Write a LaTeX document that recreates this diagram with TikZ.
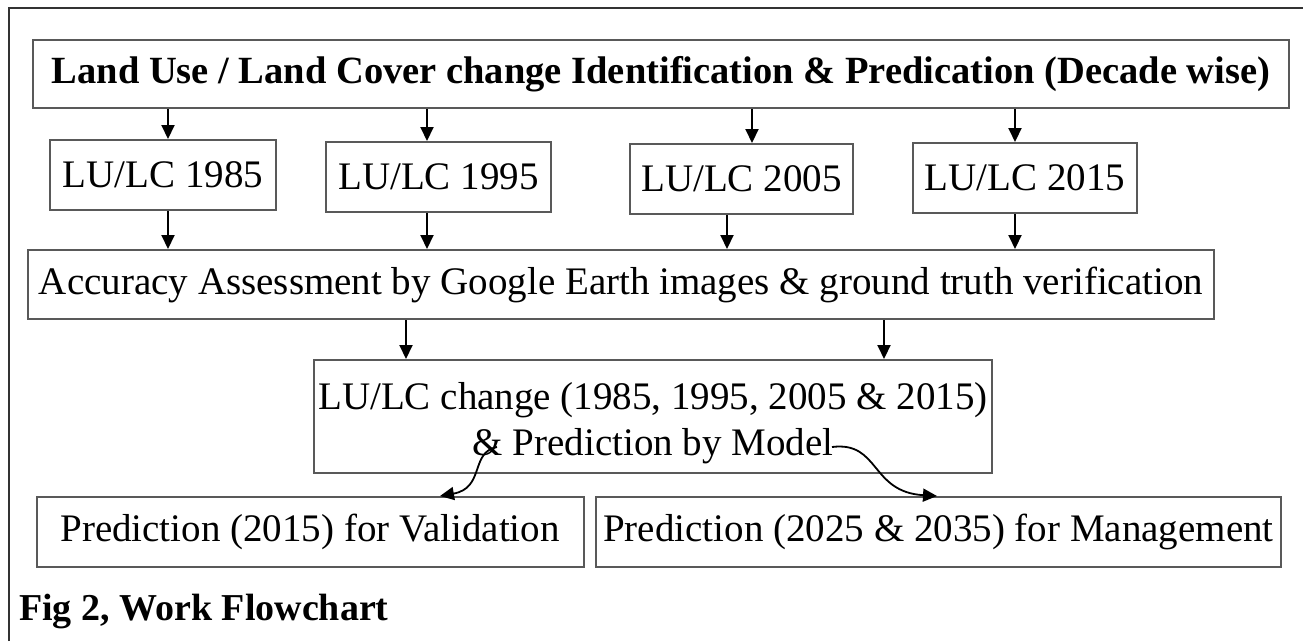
\documentclass[tikz,border=0pt]{standalone}
\usepackage{fontspec}
\setmainfont{Liberation Serif}
\usetikzlibrary{arrows.meta}
\begin{document}
\begin{tikzpicture}[x=1pt,y=-1pt,
  box/.style={draw=black!65, line width=2pt, inner sep=0pt, align=center, font=\fontsize{39}{46}\selectfont},
  arr/.style={line width=2pt, -{Triangle[length=14pt,width=13pt]}},
  curv/.style={line width=1.8pt, -{Triangle[length=14pt,width=13pt]}}]
\useasboundingbox (0,0) rectangle (1303,641);
\fill[white] (0,0) rectangle (1303,641);
\draw[line width=1.5pt, black!80] (9,641) -- (9,8) -- (1303,8);
\node[box, minimum width=1256pt, minimum height=68pt, font=\fontsize{38.5}{44}\selectfont\bfseries] (title) at (661,74)
  {Land Use / Land Cover change Identification \& Predication (Decade wise)};
\node[box, minimum width=226pt, minimum height=70pt] (b85) at (163,175) {LU/LC 1985};
\node[box, minimum width=225pt, minimum height=70pt] (b95) at (438.5,177) {LU/LC 1995};
\node[box, minimum width=223pt, minimum height=70pt] (b05) at (741.5,179) {LU/LC 2005};
\node[box, minimum width=224pt, minimum height=70pt] (b15) at (1025,178) {LU/LC 2015};
\node[box, minimum width=1186pt, minimum height=69pt] (acc) at (621,284.5)
  {Accuracy Assessment by Google Earth images \& ground truth verification};
\node[box, minimum width=678pt, minimum height=113pt] (chg) at (653,416.5)
  {\raisebox{-7pt}[\height][\depth]{\begin{tabular}{@{}c@{}}LU/LC change (1985, 1995, 2005 \& 2015)\\\& Prediction by Model\end{tabular}}};
\node[box, minimum width=547pt, minimum height=70pt] (val) at (310,532) {Prediction (2015) for Validation};
\node[box, minimum width=685pt, minimum height=70pt] (mgt) at (938.5,532) {Prediction (2025 \& 2035) for Management};
\node[anchor=base west, inner sep=0pt, font=\fontsize{38}{44}\selectfont\bfseries] (fig) at (19,620) {Fig 2, Work Flowchart};
% arrows
\foreach \x/\n in {168/b85, 427/b95, 752/b05, 1015/b15}
  \draw[arr] (title.south -| \x,0) -- (\n.north -| \x,0);
\foreach \x/\n in {168/b85, 427/b95, 727/b05, 1015/b15}
  \draw[arr] (\n.south -| \x,0) -- (acc.north -| \x,0);
\draw[arr] (acc.south -| 406,0) -- (chg.north -| 406,0);
\draw[arr] (acc.south -| 884,0) -- (chg.north -| 884,0);
\coordinate (c1) at (497,447);
\coordinate (c2) at (832,447);
\draw[curv] (c1) .. controls (470,452) and (485,488) .. (val.north -| 440,0);
\draw[curv] (c2) .. controls (880,441) and (870,492) .. (mgt.north -| 937,0);
\end{tikzpicture}
\end{document}
